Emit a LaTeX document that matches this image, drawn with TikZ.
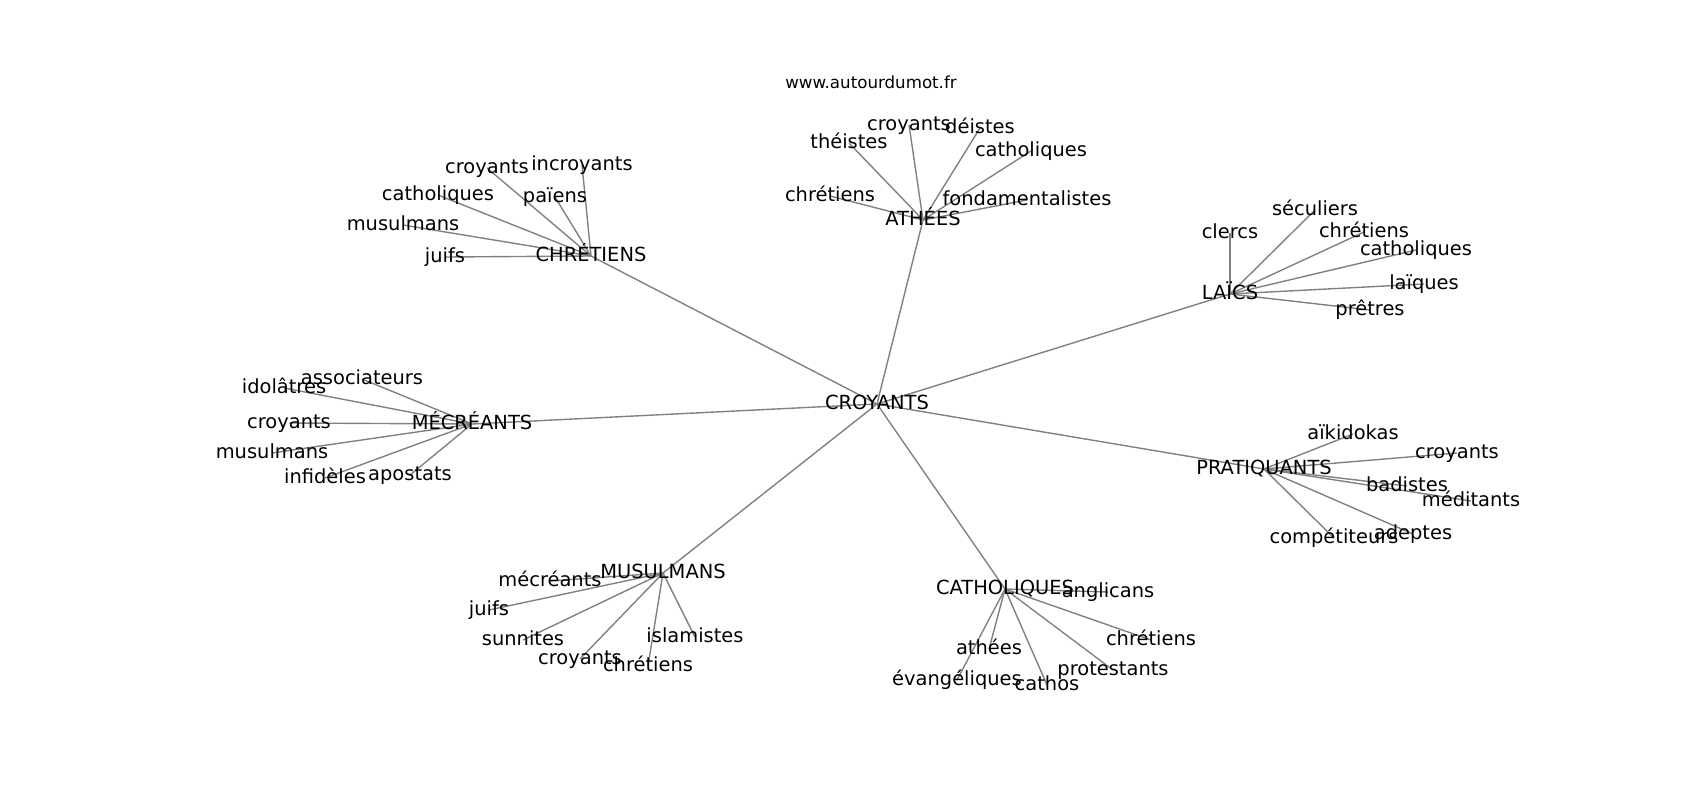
\documentclass[tikz,border=0pt]{standalone}
\usepackage{fontspec}
\setmainfont{DejaVu Sans}
\usetikzlibrary{backgrounds}
\begin{document}
\begin{tikzpicture}[x=0.72pt,y=-0.72pt,
  lbl/.style={inner sep=0pt,font=\fontsize{14}{16}\selectfont,text height=10.5pt,text depth=3.3pt,anchor=center},
  url/.style={inner sep=0pt,font=\fontsize{12}{14}\selectfont,text height=9pt,text depth=2.8pt},
  edge/.style={draw=gray,line width=1pt}]
\useasboundingbox (0,-2) rectangle (1700,798);
\node[url] (url) at (871,82) {www.autourdumot.fr};
% hubs
\node[lbl] (c) at (877,402) {CROYANTS};
\node[lbl] (ath) at (923,218) {ATHÉES};
\node[lbl] (chr) at (591,254) {CHRÉTIENS};
\node[lbl] (lai) at (1230,292) {LAÏCS};
\node[lbl] (mec) at (472,422) {MÉCRÉANTS};
\node[lbl] (pra) at (1264,467) {PRATIQUANTS};
\node[lbl] (mus) at (663,571) {MUSULMANS};
\node[lbl] (cat) at (1005,587) {CATHOLIQUES};
% CHRETIENS leaves
\node[lbl] (chr1) at (487,166) {croyants};
\node[lbl] (chr2) at (582,163) {incroyants};
\node[lbl] (chr3) at (438,193) {catholiques};
\node[lbl] (chr4) at (555,195) {païens};
\node[lbl] (chr5) at (403,223) {musulmans};
\node[lbl] (chr6) at (445,255) {juifs};
% ATHEES leaves
\node[lbl] (ath1) at (909,123) {croyants};
\node[lbl] (ath2) at (980,126) {déistes};
\node[lbl] (ath3) at (849,141) {théistes};
\node[lbl] (ath4) at (1031,149) {catholiques};
\node[lbl] (ath5) at (830,194) {chrétiens};
\node[lbl] (ath6) at (1027,198) {fondamentalistes};
% LAICS leaves
\node[lbl] (lai1) at (1230,231) {clercs};
\node[lbl] (lai2) at (1315,208) {séculiers};
\node[lbl] (lai3) at (1364,230) {chrétiens};
\node[lbl] (lai4) at (1416,248) {catholiques};
\node[lbl] (lai5) at (1424,282) {laïques};
\node[lbl] (lai6) at (1370,308) {prêtres};
% MECREANTS leaves
\node[lbl] (mec1) at (362,377) {associateurs};
\node[lbl] (mec2) at (284,386) {idolâtres};
\node[lbl] (mec3) at (289,421) {croyants};
\node[lbl] (mec4) at (272,451) {musulmans};
\node[lbl] (mec5) at (325,476) {infidèles};
\node[lbl] (mec6) at (410,473) {apostats};
% PRATIQUANTS leaves
\node[lbl] (pra1) at (1353,432) {aïkidokas};
\node[lbl] (pra2) at (1457,451) {croyants};
\node[lbl] (pra3) at (1407,484) {badistes};
\node[lbl] (pra4) at (1471,499) {méditants};
\node[lbl] (pra5) at (1334,536) {compétiteurs};
\node[lbl] (pra6) at (1413,532) {adeptes};
% MUSULMANS leaves
\node[lbl] (mus1) at (550,579) {mécréants};
\node[lbl] (mus2) at (489,608) {juifs};
\node[lbl] (mus3) at (523,638) {sunnites};
\node[lbl] (mus4) at (580,657) {croyants};
\node[lbl] (mus5) at (648,664) {chrétiens};
\node[lbl] (mus6) at (695,635) {islamistes};
% CATHOLIQUES leaves
\node[lbl] (cat1) at (1108,590) {anglicans};
\node[lbl] (cat2) at (1151,638) {chrétiens};
\node[lbl] (cat3) at (989,647) {athées};
\node[lbl] (cat4) at (1113,668) {protestants};
\node[lbl] (cat5) at (957,678) {évangéliques};
\node[lbl] (cat6) at (1047,683) {cathos};
\begin{scope}[on background layer]
\foreach \h in {ath,chr,lai,mec,pra,mus,cat}
  \draw[edge] (c.center) -- (\h.center);
\foreach \h in {ath,chr,lai,mec,pra,mus,cat}
  \foreach \i in {1,...,6}
    \draw[edge] (\h.center) -- (\h\i.center);
\end{scope}
\end{tikzpicture}
\end{document}
